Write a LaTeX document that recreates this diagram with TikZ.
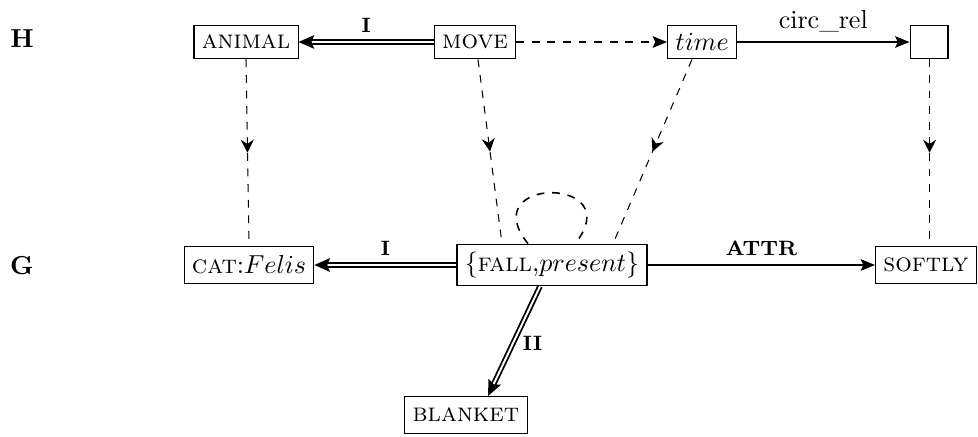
\documentclass[tikz,border=0pt]{standalone}
\usetikzlibrary{arrows.meta,decorations.markings,calc}
\begin{document}
\begin{tikzpicture}[x=0.3846pt,y=-0.3846pt,
  box/.style={draw,line width=0.4pt,inner sep=3pt,minimum height=13pt},
  gbox/.style={box,minimum height=14.2pt},
  dbl/.style={double,line width=0.7pt,double distance=0.75pt,-{Stealth[length=6pt,width=5.2pt,inset=1pt]}},
  rel/.style={line width=0.75pt,-{Stealth[length=5.5pt,width=4.4pt,inset=1pt]}},
  proj/.style={dashed,line width=0.4pt,postaction={decorate},
    decoration={markings,mark=at position 0.5 with {\arrow{Stealth[length=5pt,width=5pt]}}}},
  lab/.style={font=\footnotesize\bfseries}]
\useasboundingbox (0,0) rectangle (978,437);
% level labels
\node[font=\bfseries] (H) at (22,39) {H};
\node[font=\bfseries] (G) at (22,266) {G};
% H nodes
\node[box] (animal) at (246,42) {\textsc{animal}};
\node[box] (move) at (475,42) {\textsc{move}};
\node[box] (time) at (702,42) {$time$};
\node[box,minimum width=14.6pt] (empty) at (929,42) {};
% G nodes
\node[gbox] (cat) at (249,265) {\textsc{cat}:$Felis$};
\node[gbox] (fall) at (552,265) {$\{$\textsc{fall},$present\}$};
\node[gbox] (softly) at (926,265) {\textsc{softly}};
\node[gbox] (blanket) at (466,415) {\textsc{blanket}};
% H relations
\draw[dbl] (move) -- node[above,lab] {I} (animal);
\draw[rel,dashed] (move) -- (time);
\draw[rel] (time) -- node[above] {circ\_rel} (empty);
% G relations
\draw[dbl] (fall) -- node[above,lab] {I} (cat);
\draw[rel] (fall) -- node[above,lab] {ATTR} (softly);
\draw[dbl] ($(fall.south)+(-12,0)$) -- node[right,lab,pos=0.52] {II} ($(blanket.north)+(22,0)$);
\draw[semithick,dashed] ($(fall.north)+(-24,0)$) .. controls +(-55,-68) and +(55,-68) .. ($(fall.north)+(23,0)$);
% projections
\draw[proj] (animal.south) -- (cat.north);
\draw[proj] ($(move.south)+(3,0)$) -- ($(fall.north)+(-50,0)$);
\draw[proj] ($(time.south)+(-10,0)$) -- ($(fall.north)+(61,0)$);
\draw[proj] ([xshift=0.2pt]empty.south) -- ([xshift=0.2pt]empty.south |- softly.north);
\end{tikzpicture}
\end{document}
